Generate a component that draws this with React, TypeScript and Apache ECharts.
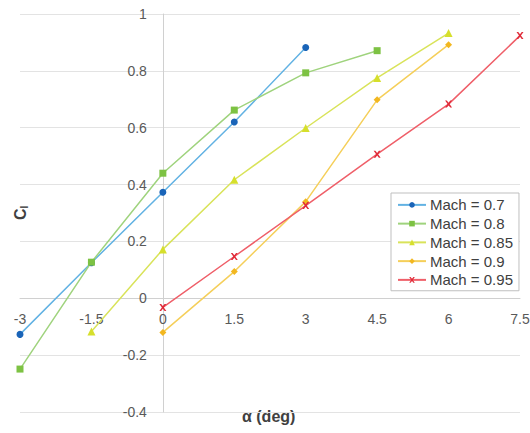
import React, { useEffect, useRef } from "react";
import * as echarts from "echarts";

const alphaTicks = [-3, -1.5, 0, 1.5, 3, 4.5, 6, 7.5];
const seriesNames = ["Mach = 0.7", "Mach = 0.8", "Mach = 0.85", "Mach = 0.9", "Mach = 0.95"];
const mach07: [number, number][] = [[-3, -0.127], [-1.5, 0.125], [0, 0.373], [1.5, 0.62], [3, 0.882]];
const mach08: [number, number][] = [[-3, -0.249], [-1.5, 0.127], [0, 0.44], [1.5, 0.662], [3, 0.793], [4.5, 0.871]];
const mach085: [number, number][] = [[-1.5, -0.117], [0, 0.172], [1.5, 0.417], [3, 0.599], [4.5, 0.775], [6, 0.933]];
const mach09: [number, number][] = [[0, -0.12], [1.5, 0.094], [3, 0.34], [4.5, 0.698], [6, 0.892]];
const mach095: [number, number][] = [[0, -0.032], [1.5, 0.147], [3, 0.326], [4.5, 0.507], [6, 0.683], [7.5, 0.924]];

const lineColors = ["#62b2e3", "#9fd37d", "#d9e35a", "#f5cf5a", "#ef5f69"];
const markerColors = ["#1a64b8", "#7dc243", "#d6df2c", "#f2b720", "#e02a38"];
const xPath = "path://M0,0 L2.5,0 L5,3.2 L7.5,0 L10,0 L6.4,5 L10,10 L7.5,10 L5,6.8 L2.5,10 L0,10 L3.6,5 Z";
const symbols = ["circle", "rect", "triangle", "diamond", xPath];
const symbolSizes = [7, 7, 8, 7, 7];

export default function App() {
  const ref = useRef<HTMLDivElement>(null);
  useEffect(() => {
    document.body.style.margin = "0";
    const chart = echarts.init(ref.current!, null, { renderer: "svg" });
    const datasets = [mach07, mach08, mach085, mach09, mach095];
    const yMin = -0.4;
    const yMax = 1;
    const xMin = alphaTicks[0];
    const xMax = alphaTicks[alphaTicks.length - 1];
    const gridTop = 14;
    const gridBottom = 21;
    const gridLeft = 20;
    const gridRight = 10;
    const plotH = 433 - gridTop - gridBottom;
    const plotW = 530 - gridLeft - gridRight;
    const xZeroOffset = -(plotH * (0 - yMin)) / (yMax - yMin);
    const yZeroOffset = -(plotW * (0 - xMin)) / (xMax - xMin);
    chart.setOption({
      animation: false,
      backgroundColor: "#ffffff",
      grid: { left: gridLeft, right: gridRight, top: gridTop, bottom: gridBottom, containLabel: false, outerBoundsMode: "none" },
      xAxis: {
        type: "value",
        min: xMin,
        max: xMax,
        interval: 1.5,
        offset: xZeroOffset,
        axisLine: { onZero: false, lineStyle: { color: "#d0d0d0", width: 1 } },
        axisTick: { show: false },
        splitLine: { show: false },
        axisLabel: {
          margin: 14,
          fontSize: 14,
          color: "#595959",
          fontFamily: "Liberation Sans",
          formatter: (v: number) => String(v),
        },
      },
      yAxis: {
        type: "value",
        min: yMin,
        max: yMax,
        interval: 0.2,
        offset: yZeroOffset,
        axisLine: { show: true, onZero: false, lineStyle: { color: "#d0d0d0", width: 1 } },
        axisTick: { show: false },
        splitLine: { show: true, lineStyle: { color: "#e3e3e3", width: 1 } },
        axisLabel: {
          margin: 16,
          fontSize: 14,
          color: "#595959",
          fontFamily: "Liberation Sans",
          formatter: (v: number) => String(Math.round(v * 10) / 10),
        },
      },
      legend: {
        orient: "vertical",
        left: 391,
        top: 193,
        padding: [4, 6, 3, 6],
        itemWidth: 28,
        itemHeight: 7,
        itemGap: 3,
        borderColor: "#bfbfbf",
        borderWidth: 1,
        backgroundColor: "#ffffff",
        textStyle: { fontSize: 15, lineHeight: 15.75, color: "#404040", fontFamily: "Liberation Sans", padding: [0, 0, 0, -1] },
        data: seriesNames,
      },
      graphic: [
        {
          type: "text",
          left: 242,
          top: 408,
          style: { text: "α (deg)", fontSize: 16, fontWeight: "bold", fill: "#404040", fontFamily: "Liberation Sans" },
        },
        {
          type: "text",
          x: 11,
          y: 220,
          rotation: Math.PI / 2,
          style: {
            text: "{a|C}{b|l}",
            fill: "#404040",
            rich: {
              a: { fontSize: 16, fontWeight: "bold", fill: "#404040", fontFamily: "Liberation Sans" },
              b: { fontSize: 10, fontWeight: "bold", fill: "#404040", fontFamily: "Liberation Sans", padding: [8, 0, 0, 0] },
            },
          },
        },
      ],
      series: datasets.map((d, i) => ({
        name: seriesNames[i],
        type: "line",
        data: d,
        symbol: symbols[i],
        symbolSize: symbolSizes[i],
        showAllSymbol: true,
        lineStyle: { color: lineColors[i], width: 1.5 },
        itemStyle: { color: markerColors[i], borderWidth: 0 },
      })),
    });
    return () => chart.dispose();
  }, []);
  return <div ref={ref} style={{ width: 530, height: 433 }} />;
}
